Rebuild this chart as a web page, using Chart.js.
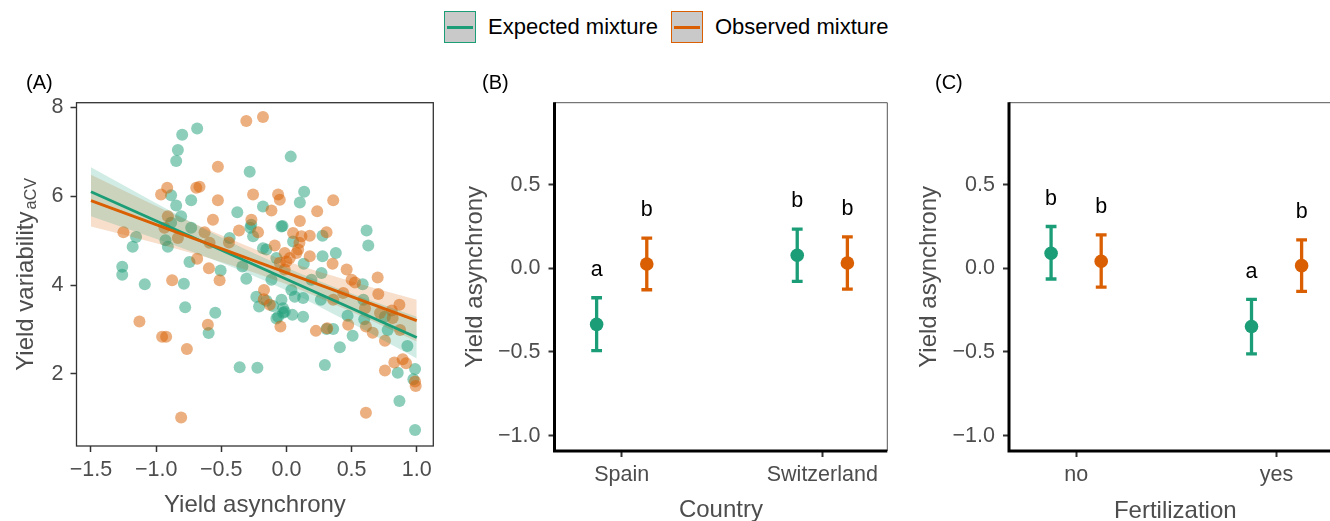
<!DOCTYPE html>
<html>
<head>
<meta charset="utf-8">
<title>Yield asynchrony</title>
<script src="https://cdn.jsdelivr.net/npm/chart.js@4.4.1/dist/chart.umd.min.js"></script>
<style>
  html, body { margin: 0; padding: 0; background: #fff; }
  body { width: 1330px; height: 521px; overflow: hidden; position: relative; }
  canvas { position: absolute; top: 60px; }
  #legend {
    position: absolute; top: 11px; left: 444px; height: 32px;
    display: flex; align-items: center;
    font-family: "Liberation Sans", Arial, Helvetica, sans-serif; font-size: 22px; color: #000;
  }
  .key { width: 30px; height: 30px; border: 1.5px solid; background: #c9c9c9; position: relative; }
  .key span { position: absolute; left: 2px; right: 2px; top: 13.5px; height: 3px; }
  .lab { margin-left: 12px; margin-right: 13px; white-space: nowrap; }
</style>
</head>
<body>
<div id="legend">
  <div class="key" style="border-color:#1b9e77"><span style="background:#1b9e77"></span></div>
  <div class="lab">Expected mixture</div>
  <div class="key" style="border-color:#d95f02"><span style="background:#d95f02"></span></div>
  <div class="lab">Observed mixture</div>
</div>
<canvas id="panelA" width="450" height="471" style="left:0px"></canvas>
<canvas id="panelB" width="450" height="471" style="left:455px"></canvas>
<canvas id="panelC" width="460" height="471" style="left:905px"></canvas>

<script>
const FONT = '"Liberation Sans", Arial, Helvetica, sans-serif';
Chart.defaults.font.family = FONT;
Chart.defaults.animation = false;
Chart.defaults.plugins.legend.display = false;
Chart.defaults.plugins.tooltip.enabled = false;

const GREEN = '#1b9e77';
const ORANGE = '#d95f02';
const GREY = '#4d4d4d';

// ---- panel A: yield asynchrony vs yield variability (one point per plot) ----
const expAsync = [-0.685, -0.80, -0.833, -0.846, 0.033, -0.282, 0.136, 0.103, -0.731, -0.885,
  -0.846, -0.377, -0.18, -0.808, -0.885, -0.731, -0.928, -0.91, -1.154, -1.18,
  -1.26, -1.26, -1.087, -0.787, -0.744, -0.777, -0.505, -0.546, -0.597, -0.359,
  -0.223, -0.308, -0.338, -0.436, -0.256, -0.277, -0.038, -0.18, -0.154, -0.077,
  -0.115, -0.231, -0.21, -0.103, -0.038, -0.026, -0.064, 0.038, 0.064, 0.046,
  0.128, 0.128, 0.192, 0.133, 0.051, 0.277, 0.277, 0.269, 0.264, 0.379,
  0.615, 0.628, 0.585, 0.59, 0.469, 0.508, 0.41, 0.295, 0.359, 0.308,
  0.597, 0.756, 0.777, 0.928, 0.854, 0.987, 0.974, 0.867, 0.987, -0.026,
  -0.03, -0.153, -0.013, -0.077, -0.27];
const expVar = [7.52, 7.38, 7.04, 6.79, 6.89, 6.55, 6.10, 5.86, 5.91, 6.02,
  5.79, 5.64, 5.77, 5.55, 5.40, 5.29, 5.01, 4.86, 5.08, 4.86,
  4.41, 4.23, 4.02, 4.03, 4.52, 3.50, 4.33, 3.38, 2.92, 2.15,
  2.14, 4.14, 4.42, 5.06, 5.10, 5.29, 5.32, 4.83, 4.80, 4.61,
  4.12, 3.74, 3.52, 3.53, 3.67, 3.48, 3.29, 3.89, 3.74, 3.33,
  3.29, 3.71, 4.12, 4.48, 4.98, 4.65, 5.11, 4.27, 3.67, 4.72,
  5.23, 4.89, 4.02, 3.67, 3.31, 2.86, 2.60, 2.20, 3.01, 3.01,
  3.23, 3.29, 2.99, 2.63, 2.03, 2.11, 1.88, 1.39, 0.74, 3.38,
  5.33, 3.65, 3.40, 3.25, 5.36];

const obsAsync = [-0.308, -0.18, -0.526, -0.915, -0.962, -0.692, -0.667, -0.526, -0.256, -0.064,
  -0.051, 0.359, -0.115, -0.564, -0.269, -0.91, -0.936, -0.833, -1.251, -0.628,
  -0.59, -0.441, -0.364, -0.218, 0.103, 0.236, 0.051, 0.115, 0.179, 0.308,
  -0.09, -0.013, 0, 0.09, 0.179, -0.013, 0.354, 0.462, 0.5, 0.526,
  0.7, 0.705, 0.867, 0.718, 0.808, 0.603, 0.436, 0.359, 0.474, 0.662,
  0.61, 0.872, 0.313, 0.226, -0.046, -0.128, -0.172, -0.174, -0.513, -0.595,
  -0.685, -0.877, -1.128, -0.954, -0.923, -0.603, -0.764, -0.808, 0.61, 0.756,
  0.828, 0.892, 0.918, 0.987, 0.992, 0.756, 0.815, 0.026, -0.051, 0.077, 0.1];
const obsVar = [7.69, 7.78, 6.66, 6.19, 6.04, 6.19, 6.21, 5.91, 6.04, 6.04,
  5.92, 5.91, 5.68, 5.47, 5.47, 5.55, 5.29, 5.06, 5.19, 5.19,
  4.95, 4.96, 5.23, 5.19, 5.44, 5.66, 5.17, 5.10, 5.11, 5.19,
  4.89, 4.72, 4.53, 4.80, 4.65, 4.35, 4.48, 4.35, 4.12, 4.06,
  4.17, 3.80, 3.56, 3.37, 3.43, 3.48, 3.82, 3.67, 3.11, 2.93,
  3.07, 2.99, 3.03, 2.97, 3.07, 3.56, 3.89, 3.68, 4.11, 4.38,
  4.59, 4.11, 3.18, 2.84, 2.84, 3.11, 2.56, 1.02, 1.13, 2.08,
  2.26, 2.33, 2.24, 1.83, 1.73, 2.75, 3.26, 4.61, 4.50, 4.72, 4.95];

// linear fits and their 95% confidence bands
const fitX = [-1.5, 1.0];
const expFit = [6.10, 2.82];
const obsFit = [5.90, 3.20];
const bandX = [-1.5, -1.0, -0.5, 0, 0.5, 1.0];
const expLower = [5.55, 5.04, 4.50, 3.88, 3.14, 2.35];
const expUpper = [6.65, 5.84, 5.07, 4.39, 3.81, 3.29];
const obsLower = [5.32, 4.94, 4.52, 4.02, 3.40, 2.73];
const obsUpper = [6.48, 5.78, 5.12, 4.54, 4.08, 3.67];

const xTicksA = [-1.5, -1.0, -0.5, 0, 0.5, 1.0];
const yTicksA = [2, 4, 6, 8];

// ---- panels B and C: model means with 95% CI ----
const yTicksBC = [-1.0, -0.5, 0, 0.5];

const countries = ['Spain', 'Switzerland'];
const countryExpMean = [-0.335, 0.078];
const countryExpLo = [-0.492, -0.078];
const countryExpHi = [-0.176, 0.234];
const countryObsMean = [0.026, 0.032];
const countryObsLo = [-0.128, -0.124];
const countryObsHi = [0.180, 0.188];
const countryExpLetters = ['a', 'b'];
const countryObsLetters = ['b', 'b'];

const fertLevels = ['no', 'yes'];
const fertExpMean = [0.090, -0.348];
const fertExpLo = [-0.064, -0.512];
const fertExpHi = [0.250, -0.186];
const fertObsMean = [0.042, 0.016];
const fertObsLo = [-0.112, -0.138];
const fertObsHi = [0.200, 0.170];
const fertExpLetters = ['b', 'a'];
const fertObsLetters = ['b', 'b'];

const DODGE = 0.125;

function xy(xs, ys) {
  return xs.map((v, i) => ({ x: v, y: ys[i] }));
}

function fmt(v) {
  const s = Math.abs(v).toFixed(1);
  return v < 0 ? '\u2212' + s : s;
}

// draw "(A)", "(B)" ... in the top-left corner of a canvas
function panelTag(text, x) {
  return {
    id: 'panelTag',
    afterDraw(chart) {
      const ctx = chart.ctx;
      ctx.save();
      ctx.fillStyle = '#000';
      ctx.font = '20px ' + FONT;
      ctx.textBaseline = 'alphabetic';
      ctx.fillText(text, x, 28.5);
      ctx.restore();
    }
  };
}

function fixedAxis(size, horizontal) {
  return function (scale) {
    if (horizontal) scale.height = size; else scale.width = size;
    scale.paddingLeft = 0;
    scale.paddingRight = 0;
  };
}

function setTicks(values) {
  return function (scale) {
    scale.ticks = values.map(v => ({ value: v }));
  };
}

// ---------- panel A ----------
const boxA = {
  id: 'boxA',
  afterDraw(chart) {
    const { ctx, chartArea: a } = chart;
    ctx.save();
    ctx.strokeStyle = '#333';
    ctx.lineWidth = 1.3;
    ctx.strokeRect(a.left, a.top, a.right - a.left, a.bottom - a.top);

    // y title with subscript
    const mainFont = '24px ' + FONT;
    const subFont = '16.3px ' + FONT;
    ctx.font = mainFont;
    const wMain = ctx.measureText('Yield variability').width;
    ctx.font = subFont;
    const wSub = ctx.measureText('aCV').width;
    const gap = 2;
    const total = wMain + gap + wSub;
    const cy = (a.top + a.bottom) / 2;
    ctx.translate(33.3, cy + total / 2);
    ctx.rotate(-Math.PI / 2);
    ctx.fillStyle = GREY;
    ctx.textAlign = 'left';
    ctx.textBaseline = 'alphabetic';
    ctx.font = mainFont;
    ctx.fillText('Yield variability', 0, 0);
    ctx.font = subFont;
    ctx.fillText('aCV', wMain + gap, 2.5);
    ctx.restore();
  }
};

new Chart(document.getElementById('panelA'), {
  type: 'scatter',
  data: {
    datasets: [
      { data: xy(expAsync, expVar), backgroundColor: 'rgba(27,158,119,0.5)', borderWidth: 0, pointRadius: 6, order: 4 },
      { data: xy(obsAsync, obsVar), backgroundColor: 'rgba(217,95,2,0.5)', borderWidth: 0, pointRadius: 6, order: 3 },
      { type: 'line', data: xy(bandX, expUpper), fill: '+1', backgroundColor: 'rgba(27,158,119,0.2)',
        borderWidth: 0, pointRadius: 0, cubicInterpolationMode: 'monotone', order: 2 },
      { type: 'line', data: xy(bandX, expLower), fill: false, borderWidth: 0, pointRadius: 0,
        cubicInterpolationMode: 'monotone', order: 2 },
      { type: 'line', data: xy(bandX, obsUpper), fill: '+1', backgroundColor: 'rgba(217,95,2,0.2)',
        borderWidth: 0, pointRadius: 0, cubicInterpolationMode: 'monotone', order: 2 },
      { type: 'line', data: xy(bandX, obsLower), fill: false, borderWidth: 0, pointRadius: 0,
        cubicInterpolationMode: 'monotone', order: 2 },
      { type: 'line', data: xy(fitX, expFit), borderColor: GREEN, borderWidth: 2.8, pointRadius: 0, fill: false, order: 1 },
      { type: 'line', data: xy(fitX, obsFit), borderColor: ORANGE, borderWidth: 2.8, pointRadius: 0, fill: false, order: 0 }
    ]
  },
  options: {
    responsive: false,
    layout: { padding: { left: 0, right: 16.7, top: 42.7, bottom: 0 } },
    scales: {
      x: {
        type: 'linear', min: -1.611, max: 1.127,
        afterBuildTicks: setTicks(xTicksA),
        afterFit: fixedAxis(85, true),
        border: { display: false },
        grid: { drawOnChartArea: false, drawTicks: true, tickLength: 6, tickColor: '#333', tickWidth: 1.5 },
        ticks: { color: GREY, font: { size: 21.5 }, padding: 4.7, maxRotation: 0, autoSkip: false, callback: v => fmt(v) },
        title: { display: true, text: 'Yield asynchrony', color: GREY, font: { size: 24 }, padding: { top: 0, bottom: 11 } }
      },
      y: {
        type: 'linear', min: 0.38, max: 8.103,
        afterBuildTicks: setTicks(yTicksA),
        afterFit: fixedAxis(76.5, false),
        border: { display: false },
        grid: { drawOnChartArea: false, drawTicks: true, tickLength: 6, tickColor: '#333', tickWidth: 1.5 },
        ticks: { color: GREY, font: { size: 21.5 }, padding: 7, autoSkip: false, callback: v => String(v) }
      }
    }
  },
  plugins: [boxA, panelTag('(A)', 26)]
});

// ---------- panels B and C ----------
const errorBars = {
  id: 'errorBars',
  beforeDatasetsDraw(chart) {
    const { ctx, scales: { x, y } } = chart;
    ctx.save();
    ctx.lineWidth = 3.3;
    chart.data.datasets.forEach(ds => {
      ctx.strokeStyle = ds.backgroundColor;
      ds.data.forEach((pt, i) => {
        const px = x.getPixelForValue(pt.x);
        const top = y.getPixelForValue(ds.hi[i]);
        const bot = y.getPixelForValue(ds.lo[i]);
        ctx.beginPath();
        ctx.moveTo(px, top); ctx.lineTo(px, bot);
        ctx.moveTo(px - 5.4, top); ctx.lineTo(px + 5.4, top);
        ctx.moveTo(px - 5.4, bot); ctx.lineTo(px + 5.4, bot);
        ctx.stroke();
      });
    });
    ctx.restore();
  },
  afterDatasetsDraw(chart) {
    const { ctx, scales: { x, y } } = chart;
    ctx.save();
    ctx.fillStyle = '#000';
    ctx.font = '21.5px ' + FONT;
    ctx.textAlign = 'center';
    ctx.textBaseline = 'alphabetic';
    chart.data.datasets.forEach(ds => {
      ds.data.forEach((pt, i) => {
        ctx.fillText(ds.letters[i], x.getPixelForValue(pt.x), y.getPixelForValue(ds.hi[i] + 0.13));
      });
    });
    ctx.restore();
  }
};

const axesBC = {
  id: 'axesBC',
  afterDraw(chart) {
    const { ctx, chartArea: a } = chart;
    ctx.save();
    ctx.strokeStyle = '#555';
    ctx.lineWidth = 1;
    ctx.beginPath();
    ctx.moveTo(a.left, a.top); ctx.lineTo(a.right, a.top); ctx.lineTo(a.right, a.bottom);
    ctx.stroke();
    ctx.strokeStyle = '#000';
    ctx.lineWidth = 3;
    ctx.beginPath();
    ctx.moveTo(a.left, a.top - 0.5); ctx.lineTo(a.left, a.bottom + 1.5);
    ctx.moveTo(a.left - 1.5, a.bottom); ctx.lineTo(a.right, a.bottom);
    ctx.stroke();
    ctx.restore();
  }
};

function meanChart(canvasId, cats, groups, opts) {
  const datasets = groups.map((g, k) => ({
    data: g.mean.map((m, i) => ({ x: i + 1 + (k === 0 ? -DODGE : DODGE), y: m })),
    lo: g.lo, hi: g.hi, letters: g.letters,
    backgroundColor: g.color, borderWidth: 0, pointRadius: 6.8
  }));
  return new Chart(document.getElementById(canvasId), {
    type: 'scatter',
    data: { datasets },
    options: {
      responsive: false,
      layout: { padding: { left: 0, right: opts.padRight, top: 42.7, bottom: 0 } },
      scales: {
        x: {
          type: 'linear', min: 0.665, max: 2.324,
          afterBuildTicks: setTicks([1, 2]),
          afterFit: fixedAxis(80, true),
          border: { display: false },
          grid: { drawOnChartArea: false, drawTicks: true, tickLength: 6, tickColor: '#333', tickWidth: 2 },
          ticks: { color: GREY, font: { size: 21.5 }, padding: 4.8, maxRotation: 0, autoSkip: false,
            callback: v => cats[Math.round(v) - 1] },
          title: { display: true, text: opts.xTitle, color: GREY, font: { size: 24 },
            padding: { top: 0, bottom: opts.xTitlePad } }
        },
        y: {
          type: 'linear', min: -1.092, max: 0.99,
          afterBuildTicks: setTicks(yTicksBC),
          afterFit: fixedAxis(opts.yWidth, false),
          border: { display: false },
          grid: { drawOnChartArea: false, drawTicks: true, tickLength: 6, tickColor: '#333', tickWidth: 2 },
          ticks: { color: GREY, font: { size: 21.5 }, padding: 8, autoSkip: false, callback: v => fmt(v) },
          title: { display: true, text: 'Yield asynchrony', color: GREY, font: { size: 24 },
            padding: { top: opts.yTitlePad, bottom: 0 } }
        }
      }
    },
    plugins: [errorBars, axesBC, panelTag(opts.tag, opts.tagX)]
  });
}

meanChart('panelB', countries, [
  { mean: countryExpMean, lo: countryExpLo, hi: countryExpHi, letters: countryExpLetters, color: GREEN },
  { mean: countryObsMean, lo: countryObsLo, hi: countryObsHi, letters: countryObsLetters, color: ORANGE }
], { xTitle: 'Country', xTitlePad: 6, yWidth: 99.5, yTitlePad: 6.3, padRight: 17.7, tag: '(B)', tagX: 27 });

meanChart('panelC', fertLevels, [
  { mean: fertExpMean, lo: fertExpLo, hi: fertExpHi, letters: fertExpLetters, color: GREEN },
  { mean: fertObsMean, lo: fertObsLo, hi: fertObsHi, letters: fertObsLetters, color: ORANGE }
], { xTitle: 'Fertilization', xTitlePad: 5, yWidth: 104, yTitlePad: 9.5, padRight: 23.5, tag: '(C)', tagX: 30 });
</script>
</body>
</html>
